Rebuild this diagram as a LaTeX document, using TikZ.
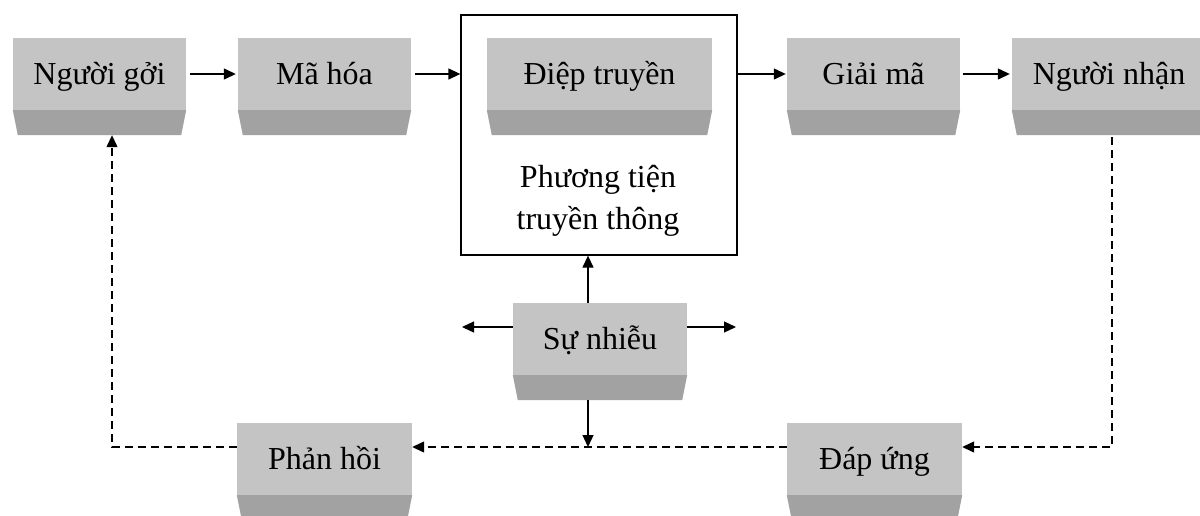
\documentclass[tikz,border=0pt]{standalone}
\usepackage{fontspec}
\setmainfont{Liberation Serif}
\usetikzlibrary{arrows.meta,calc}
\definecolor{boxlight}{RGB}{196,196,196}
\definecolor{boxdark}{RGB}{162,162,162}
\tikzset{
  lbox/.style={rectangle, fill=boxlight, minimum width=173pt, minimum height=72pt,
    inner sep=0pt, text height=26pt, text depth=6pt, font=\fontsize{32}{38}\selectfont},
  arr/.style={line width=1.3pt, -{Triangle[length=12pt,width=11pt]}},
  darr/.style={arr, dash pattern=on 8pt off 5pt},
}
\begin{document}
\begin{tikzpicture}[x=1pt,y=-1pt]
\useasboundingbox (0,0) rectangle (1200,515);
\clip (0,0) rectangle (1200,515);

% outer frame for the medium
\node[draw, line width=1.3pt, minimum width=276pt, minimum height=240pt, inner sep=0pt]
  (media) at (599,135) {};
\node[font=\fontsize{32}{42}\selectfont, align=center] (mediatext) at (598,201)
  {Phương tiện\\truyền thông};

% bevelled boxes
\node[lbox] (gui) at (99.5,74) {Người gởi};
\node[lbox] (mahoa) at (324.5,74) {Mã hóa};
\node[lbox, minimum width=225pt] (diep) at (599.5,74) {Điệp truyền};
\node[lbox] (giaima) at (873.5,74) {Giải mã};
\node[lbox, minimum width=194pt] (nhan) at (1109,74) {Người nhận};
\node[lbox, minimum width=174pt] (nhieu) at (600,339) {Sự nhiễu};
\node[lbox, minimum width=175pt] (phanhoi) at (324.5,459) {Phản hồi};
\node[lbox, minimum width=175pt] (dapung) at (874.5,459) {Đáp ứng};

\foreach \n in {gui,mahoa,diep,giaima,nhan,nhieu,phanhoi,dapung}{
  \fill[boxdark] (\n.south west) -- (\n.south east)
    -- ([xshift=-5pt,yshift=-25pt]\n.south east)
    -- ([xshift=5pt,yshift=-25pt]\n.south west) -- cycle;
}

% helper coordinates
\coordinate (fbline) at (0,447);
\coordinate (nx) at (588,0);
\coordinate (nl) at (462,327);
\coordinate (nr) at (736,327);

% forward chain
\draw[arr, shorten <=4pt, shorten >=2pt] (gui.east) -- (mahoa.west);
\draw[arr, shorten <=4pt] (mahoa.east) -- (mahoa.east -| media.west);
\draw[arr, shorten >=1pt] (giaima.west -| media.east) -- (giaima.west);
\draw[arr, shorten <=3pt, shorten >=2pt] (giaima.east) -- (nhan.west);

% noise
\draw[arr] (nhieu.north -| nx) -- (media.south -| nx);
\draw[arr] (nhieu.west |- nl) -- (nl);
\draw[arr] (nhieu.east |- nr) -- (nr);
\draw[arr] ($(nhieu.south -| nx)+(0,25)$) -- (fbline -| nx);

% feedback loop
\draw[darr] ($(nhan.south)+(3,27)$) |- (dapung.east |- fbline);
\draw[darr] (dapung.west |- fbline) -- (phanhoi.east |- fbline);
\draw[darr] (phanhoi.west |- fbline) -| ($(gui.south)+(12.5,25)$);
\end{tikzpicture}
\end{document}
